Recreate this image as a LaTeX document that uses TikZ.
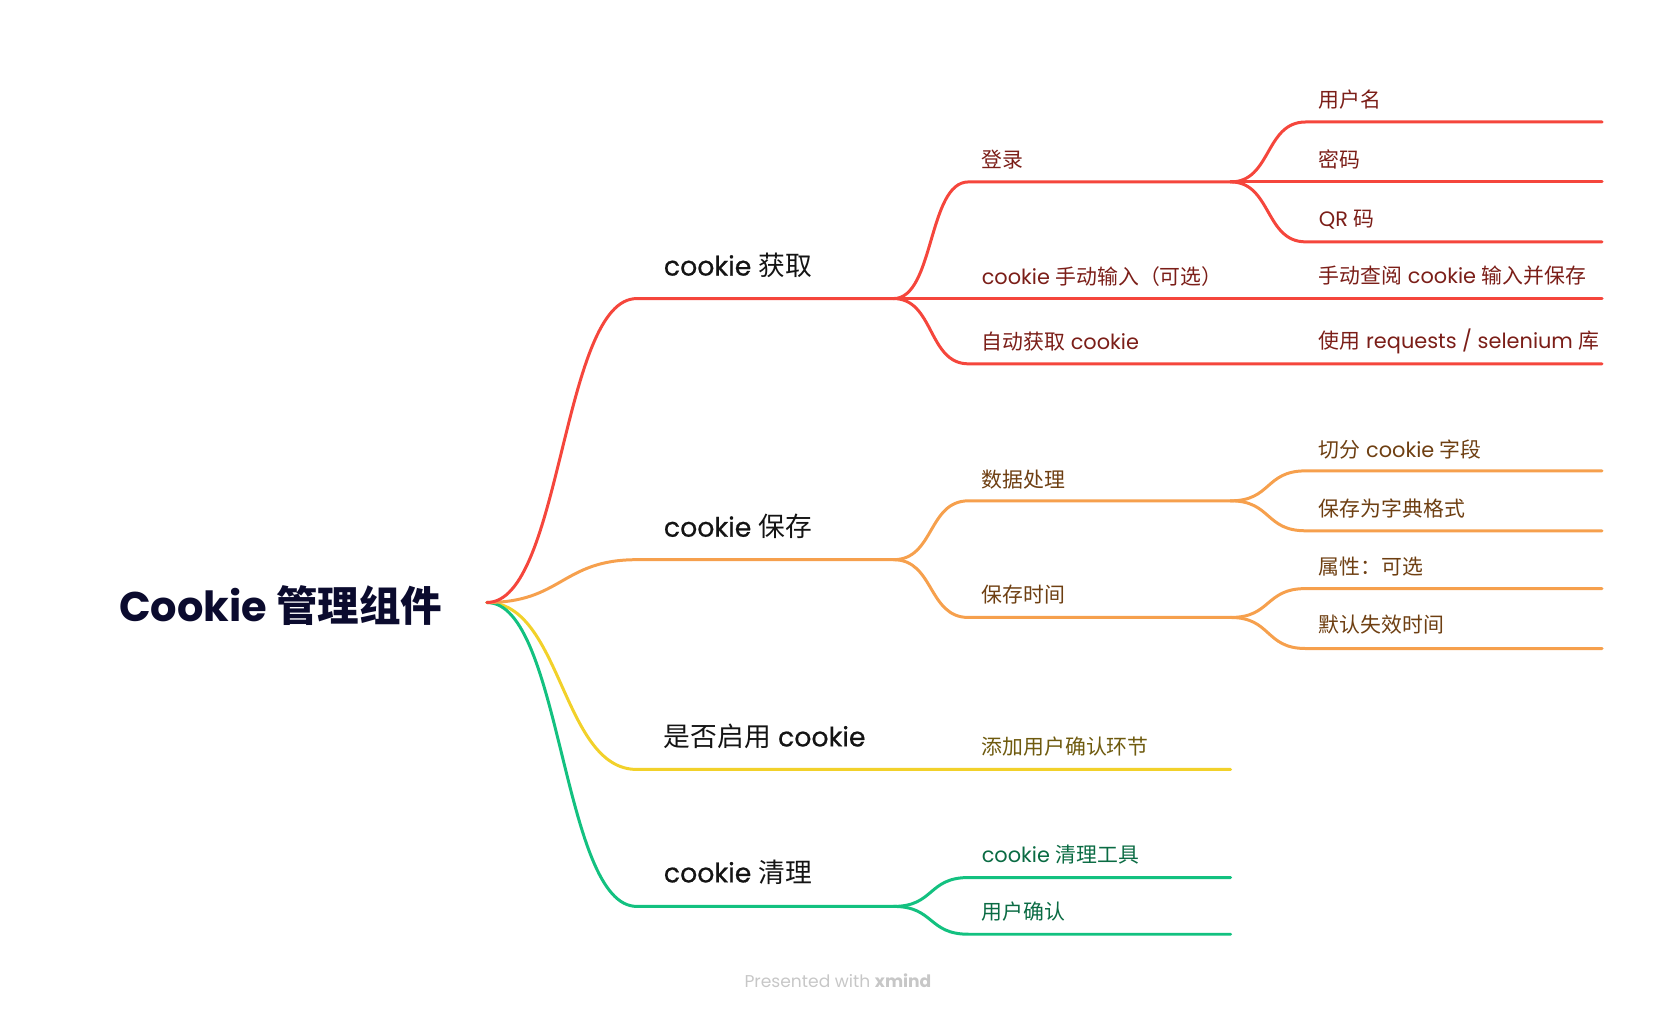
\documentclass[tikz,border=0pt]{standalone}
\usepackage{fontspec}
\setmainfont{Poppins}
\newfontfamily\cjkf{Noto Sans CJK SC}
\newfontfamily\popmed[FakeBold=0.6]{Poppins}
\newcommand\zh[1]{{\cjkf #1}}
\definecolor{redc}{HTML}{F5463C}
\definecolor{redt}{HTML}{7B1E18}
\definecolor{orgc}{HTML}{F6A04D}
\definecolor{orgt}{HTML}{6E3F12}
\definecolor{yelc}{HTML}{F2D12A}
\definecolor{yelt}{HTML}{6E5A0E}
\definecolor{grnc}{HTML}{13C180}
\definecolor{grnt}{HTML}{0A6B43}
\definecolor{roott}{HTML}{0B0B2E}
\begin{document}
\begin{tikzpicture}[x=0.5pt,y=-0.5pt,
  brR/.style={draw=redc,line width=1.4pt,line cap=round},
  brO/.style={draw=orgc,line width=1.4pt,line cap=round},
  brY/.style={draw=yelc,line width=1.4pt,line cap=round},
  brG/.style={draw=grnc,line width=1.4pt,line cap=round},
  rootbox/.style={anchor=west,inner sep=0pt,text=roott,font=\fontsize{19.4}{23}\selectfont\bfseries},
  lone/.style={anchor=west,inner sep=0pt,text=black!92,font=\fontsize{12.5}{15}\selectfont},
  ltwo/.style={anchor=west,inner sep=0pt,font=\fontsize{9.75}{12}\selectfont},
]
\useasboundingbox (0,0) rectangle (1568,946);

% ---------- text nodes ----------
\node[rootbox] (root) at (111,566) {Cookie \zh{管理组件}};
\node[lone] (ga) at (620,248) {{\popmed cookie} \zh{获取}};
\node[lone] (sa) at (620,492) {{\popmed cookie} \zh{保存}};
\node[lone] (en) at (620,688) {\zh{是否启用} {\popmed cookie}};
\node[lone] (cl) at (620,815) {{\popmed cookie} \zh{清理}};

\node[ltwo,text=redt] (login) at (917,149) {\zh{登录}};
\node[ltwo,text=redt] (manual) at (917,258) {cookie \zh{手动输入（可选）}};
\node[ltwo,text=redt] (auto) at (917,319) {\zh{自动获取} cookie};
\node[ltwo,text=redt] (user) at (1232,93) {\zh{用户名}};
\node[ltwo,text=redt] (pwd) at (1232,149) {\zh{密码}};
\node[ltwo,text=redt] (qr) at (1232,205) {QR \zh{码}};
\node[ltwo,text=redt] (look) at (1232,258) {\zh{手动查阅} cookie \zh{输入并保存}};
\node[ltwo,text=redt] (req) at (1232,319) {\zh{使用} requests / selenium \zh{库}};

\node[ltwo,text=orgt] (data) at (917,448) {\zh{数据处理}};
\node[ltwo,text=orgt] (time) at (917,556) {\zh{保存时间}};
\node[ltwo,text=orgt] (split) at (1232,420) {\zh{切分} cookie \zh{字段}};
\node[ltwo,text=orgt] (dict) at (1232,475) {\zh{保存为字典格式}};
\node[ltwo,text=orgt] (attr) at (1232,529) {\zh{属性：可选}};
\node[ltwo,text=orgt] (expire) at (1232,584) {\zh{默认失效时间}};

\node[ltwo,text=yelt] (confirmstep) at (917,698) {\zh{添加用户确认环节}};

\node[ltwo,text=grnt] (tool) at (917,799) {cookie \zh{清理工具}};
\node[ltwo,text=grnt] (uconf) at (917,852) {\zh{用户确认}};

\node[inner sep=0pt,text=black!22,font=\fontsize{8}{10}\selectfont] (foot) at (783,916) {Presented with \textbf{xmind}};

% ---------- coordinates of underlines ----------
\coordinate (O) at (455,563);
\coordinate (gas) at (595,279); \coordinate (gae) at (835,279);
\coordinate (sas) at (595,523); \coordinate (sae) at (835,523);
\coordinate (ens) at (595,719); \coordinate (ene) at (835,719);
\coordinate (cls) at (595,847); \coordinate (cle) at (835,847);

\coordinate (logins) at (905,170); \coordinate (logine) at (1150,170);
\coordinate (manuale) at (1150,279);
\coordinate (autos) at (905,340); \coordinate (autoe) at (1150,340);
\coordinate (users) at (1220,114); \coordinate (usere) at (1497,114);
\coordinate (pwde) at (1497,170);
\coordinate (qrs) at (1220,226); \coordinate (qre) at (1497,226);
\coordinate (looke) at (1497,279);
\coordinate (reqe) at (1497,340);

\coordinate (datas) at (905,468); \coordinate (datae) at (1150,468);
\coordinate (times) at (905,577); \coordinate (timee) at (1150,577);
\coordinate (splits) at (1220,440); \coordinate (splite) at (1497,440);
\coordinate (dicts) at (1220,496); \coordinate (dicte) at (1497,496);
\coordinate (attrs) at (1220,550); \coordinate (attre) at (1497,550);
\coordinate (expires) at (1220,606); \coordinate (expiree) at (1497,606);

\coordinate (confe) at (1150,719);

\coordinate (tools) at (905,820); \coordinate (toole) at (1150,820);
\coordinate (uconfs) at (905,873); \coordinate (uconfe) at (1150,873);

% ---------- root branches ----------
\draw[brY] (O) .. controls +(70,0) and +(-70,0) .. (ens) -- (ene) -- (confe);
\draw[brG] (O) .. controls +(70,0) and +(-70,0) .. (cls) -- (cle);
\draw[brO] (O) .. controls +(70,0) and +(-70,0) .. (sas) -- (sae);
\draw[brR] (O) .. controls +(70,0) and +(-70,0) .. (gas) -- (gae);

% ---------- red subtree ----------
\draw[brR] (gae) .. controls +(38,0) and +(-38,0) .. (logins) -- (logine);
\draw[brR] (gae) -- (manuale) -- (looke);
\draw[brR] (gae) .. controls +(38,0) and +(-38,0) .. (autos) -- (autoe) -- (reqe);
\draw[brR] (logine) .. controls +(38,0) and +(-38,0) .. (users) -- (usere);
\draw[brR] (logine) -- (pwde);
\draw[brR] (logine) .. controls +(38,0) and +(-38,0) .. (qrs) -- (qre);

% ---------- orange subtree ----------
\draw[brO] (sae) .. controls +(38,0) and +(-38,0) .. (datas) -- (datae);
\draw[brO] (sae) .. controls +(38,0) and +(-38,0) .. (times) -- (timee);
\draw[brO] (datae) .. controls +(38,0) and +(-38,0) .. (splits) -- (splite);
\draw[brO] (datae) .. controls +(38,0) and +(-38,0) .. (dicts) -- (dicte);
\draw[brO] (timee) .. controls +(38,0) and +(-38,0) .. (attrs) -- (attre);
\draw[brO] (timee) .. controls +(38,0) and +(-38,0) .. (expires) -- (expiree);

% ---------- green subtree ----------
\draw[brG] (cle) .. controls +(38,0) and +(-38,0) .. (tools) -- (toole);
\draw[brG] (cle) .. controls +(38,0) and +(-38,0) .. (uconfs) -- (uconfe);
\end{tikzpicture}
\end{document}
